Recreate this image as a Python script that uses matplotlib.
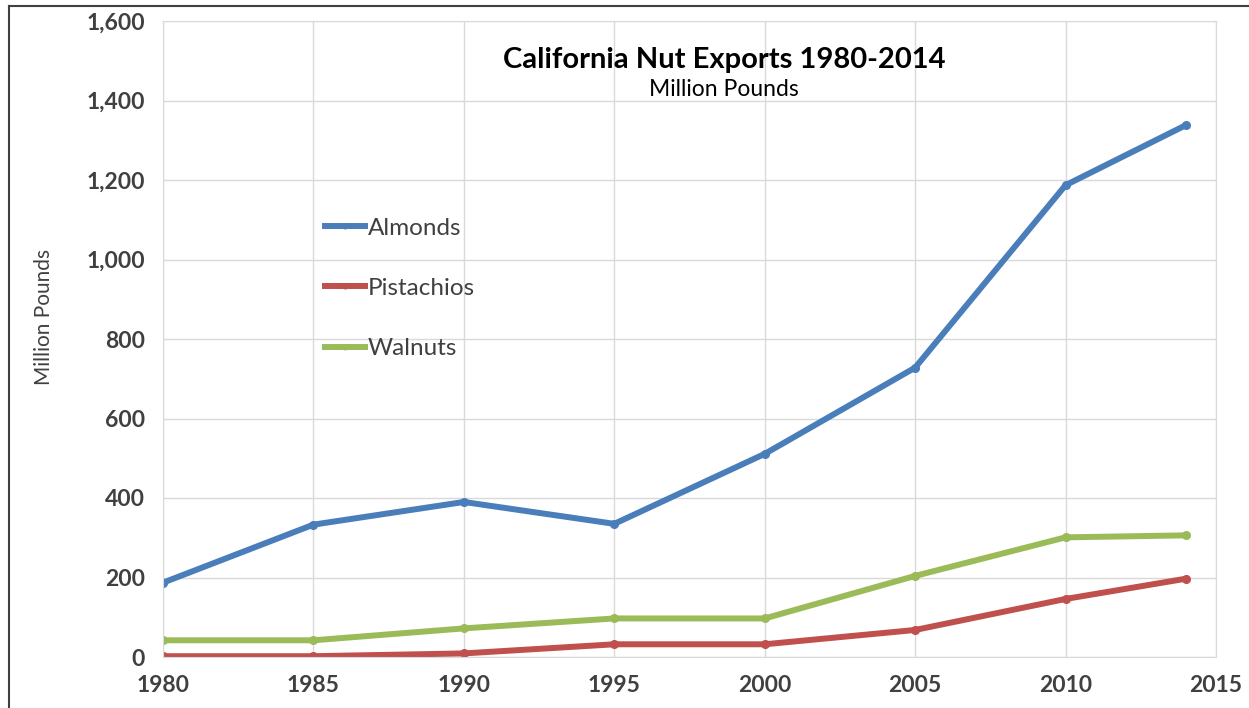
import matplotlib.pyplot as plt
from matplotlib.lines import Line2D

years = [1980, 1985, 1990, 1995, 2000, 2005, 2010, 2014]
almonds = [187, 333, 390, 335, 511, 728, 1187, 1338]
pistachios = [2, 2, 9, 32, 32, 68, 146, 197]
walnuts = [42, 42, 72, 97, 97, 204, 301, 306]

plt.rcParams['font.family'] = ['Lato', 'DejaVu Sans']

fig = plt.figure(figsize=(12.49, 7.08), dpi=100)
ax = fig.add_axes([163/1249, 51/708, (1216-163)/1249, (657-21)/708])

lw = 4.3
ax.plot(years, almonds, color='#4a7ebb', lw=lw, marker='o', ms=5.5, label='Almonds')
ax.plot(years, pistachios, color='#c0504d', lw=lw, marker='o', ms=5.5, label='Pistachios')
ax.plot(years, walnuts, color='#9bbb59', lw=lw, marker='o', ms=5.5, label='Walnuts')

ax.set_xlim(1980, 2015)
ax.set_ylim(0, 1600)
ax.set_xticks(range(1980, 2016, 5))
ax.set_yticks(range(0, 1601, 200))
ax.set_yticklabels([f'{v:,}' for v in range(0, 1601, 200)])
ax.grid(True, color='#d9d9d9', lw=1)
ax.set_axisbelow(True)
for s in ax.spines.values():
    s.set_color('#d9d9d9')
ax.tick_params(length=0, labelsize=16.5, labelcolor='#404040', pad=13)
for t in ax.get_xticklabels() + ax.get_yticklabels():
    t.set_fontweight('bold')
ax.set_ylabel('Million Pounds', fontsize=15, color='#404040')
ax.yaxis.set_label_coords(-0.1035, 0.535)

ax.text(0.533, 0.939, 'California Nut Exports 1980-2014', transform=ax.transAxes,
        ha='center', va='center', fontsize=21, fontweight='bold', color='black')
ax.text(0.533, 0.892, 'Million Pounds', transform=ax.transAxes,
        ha='center', va='center', fontsize=16.5, color='black')

leg = ax.legend(loc='upper left', bbox_to_anchor=(0.133, 0.725), frameon=False,
                fontsize=17.5, labelspacing=1.61, handlelength=1.65, handletextpad=0.1,
                markerscale=0.6)
for t in leg.get_texts():
    t.set_color('#404040')

# screenshot frame on top and left
fig.add_artist(Line2D([9/1249, 1], [1 - 6/708, 1 - 6/708], color='#404040', lw=1.5))
fig.add_artist(Line2D([9/1249, 9/1249], [0, 1 - 6/708], color='#404040', lw=1.5))

fig.savefig('out.png', dpi=100)
